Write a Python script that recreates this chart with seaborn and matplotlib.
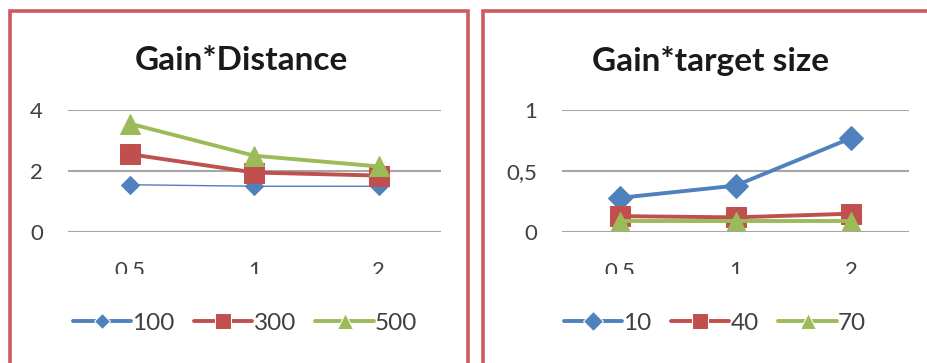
import matplotlib
matplotlib.use("Agg")
import matplotlib.pyplot as plt
import seaborn as sns
import pandas as pd
from matplotlib.patches import Rectangle

# Gain levels on the x axis
gains = ["0.5", "1", "2"]
gain_labels_left = ["0.5", "1", "2"]
gain_labels_right = ["0,5", "1", "2"]

# Gain x Distance
distance_levels = ["100", "300", "500"]
distance_100 = [1.55, 1.5, 1.5]
distance_300 = [2.55, 1.95, 1.85]
distance_500 = [3.55, 2.5, 2.15]
distance_ticks = [0, 2, 4]
distance_tick_labels = ["0", "2", "4"]

# Gain x target size
size_levels = ["10", "40", "70"]
size_10 = [0.28, 0.38, 0.77]
size_40 = [0.13, 0.12, 0.15]
size_70 = [0.09, 0.09, 0.09]
size_ticks = [0, 0.5, 1]
size_tick_labels = ["0", "0,5", "1"]

BLUE, RED, GREEN = "#4F81BD", "#C0504D", "#9BBB59"
BORDER = "#cd5a60"
W, H = 927, 363

sns.set_theme(style="white")
plt.rcParams["font.family"] = ["Lato", "DejaVu Sans"]

fig = plt.figure(figsize=(W / 100, H / 100), dpi=100)
fig.patch.set_facecolor("white")


def px_box(x0, y0, x1, y1):
    """Convert a pixel box (top-left origin) to figure fractions."""
    return [x0 / W, 1 - y1 / H, (x1 - x0) / W, (y1 - y0) / H]


def long_frame(levels, series):
    rows = []
    for lvl, vals in zip(levels, series):
        for g, v in zip(gains, vals):
            rows.append({"gain": g, "level": lvl, "value": v})
    return pd.DataFrame(rows)


def draw_panel(box, levels, series, ticks, tick_labels, xlabels, ymax,
               title, title_x, legend_x, marker_sizes, thin_first=False):
    ax = fig.add_axes(px_box(*box))
    df = long_frame(levels, series)
    sns.lineplot(
        data=df, x="gain", y="value", hue="level", style="level",
        hue_order=levels, style_order=levels,
        palette=[BLUE, RED, GREEN],
        markers={levels[0]: "D", levels[1]: "s", levels[2]: "^"},
        dashes=False, linewidth=2.8, sort=False, ax=ax,
    )
    for line, ms, col in zip(ax.lines, marker_sizes, [BLUE, RED, GREEN]):
        line.set_markersize(ms)
        line.set_markeredgecolor(col)
        line.set_markerfacecolor(col)
    if thin_first:
        ax.lines[0].set_linewidth(1.0)

    ax.set_xlim(-0.5, 2.5)
    ax.set_ylim(0, ymax)
    ax.set_yticks(ticks)
    ax.set_yticklabels(tick_labels)
    ax.set_xticks(range(len(gains)))
    ax.set_xticklabels(xlabels)
    ax.set_xlabel("")
    ax.set_ylabel("")
    ax.grid(axis="y", color="#a6a6a6", linewidth=1.5)
    ax.set_axisbelow(True)
    for s in ax.spines.values():
        s.set_visible(False)
    ax.tick_params(axis="y", length=0, pad=18, labelsize=16, labelcolor="#404040")
    ax.tick_params(axis="x", length=0, pad=21, labelsize=16, labelcolor="#404040")

    handles, labels = ax.get_legend_handles_labels()
    for h, ms in zip(handles, marker_sizes):
        h.set_markersize(ms * 0.85)
        h.set_linewidth(2.8)
    ax.legend(handles, labels, loc="center",
              bbox_to_anchor=(legend_x / W, 1 - 323 / H),
              bbox_transform=fig.transFigure, ncol=3, frameon=False,
              fontsize=17.5, handlelength=2.4, handletextpad=0.05,
              columnspacing=0.8, numpoints=1, labelcolor="#404040")

    fig.text(title_x / W, 1 - 61 / H, title, ha="center", va="center",
             fontsize=24, fontweight="bold", color="#1a1a1a")
    return ax


draw_panel((68, 110, 441, 232), distance_levels,
           [distance_100, distance_300, distance_500],
           distance_ticks, distance_tick_labels, gain_labels_left, 4,
           "Gain*Distance", 241, 245, [9, 14, 14], thin_first=True)

draw_panel((562, 110, 909, 232), size_levels,
           [size_10, size_40, size_70],
           size_ticks, size_tick_labels, gain_labels_right, 1,
           "Gain*target size", 710, 715, [12, 14, 13])

# The category labels run into the edge of the plot frame and are cut off
for x0, x1 in [(14, 466), (487, 927)]:
    fig.patches.append(Rectangle((x0 / W, 1 - 300 / H), (x1 - x0) / W, 26 / H,
                                 transform=fig.transFigure, facecolor="white",
                                 edgecolor="none", zorder=5))

# Chart frames
for x0, x1 in [(10, 468), (483, 935)]:
    fig.patches.append(Rectangle((x0 / W, -0.05), (x1 - x0) / W, 1.05 - 11 / H,
                                 transform=fig.transFigure, facecolor="none",
                                 edgecolor=BORDER, linewidth=2.6, zorder=6))

fig.savefig("out.png", dpi=100, facecolor="white")
